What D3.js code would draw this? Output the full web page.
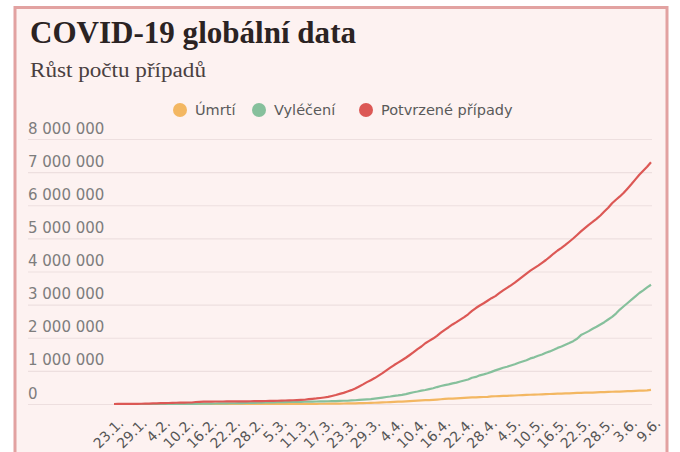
<!DOCTYPE html>
<html>
<head>
<meta charset="utf-8">
<script src="https://cdn.jsdelivr.net/npm/d3@7"></script>
<style>
  html, body { margin: 0; padding: 0; background: #fff; }
  svg { display: block; }
</style>
</head>
<body>
<svg id="chart" width="680" height="452"></svg>
<script>
// first day of the series, one value per day after it
var startDate = new Date(2020, 0, 23);

var tickLabels = ['23.1.', '29.1.', '4.2.', '10.2.', '16.2.', '22.2.', '28.2.', '5.3.',
  '11.3.', '17.3.', '23.3.', '29.3.', '4.4.', '10.4.', '16.4.', '22.4.', '28.4.',
  '4.5.', '10.5.', '16.5.', '22.5.', '28.5.', '3.6.', '9.6.'];

var yTicks = [0, 1000000, 2000000, 3000000, 4000000, 5000000, 6000000, 7000000, 8000000];

var seriesNames = ['Úmrtí', 'Vyléčení', 'Potvrzené případy'];
var seriesColors = ['#f3b762', '#86c09c', '#dc5855'];

var confirmed = [
  654, 941, 1434, 2118, 2927, 5578, 6166, 8234, 9927,
  12038, 16787, 19887, 23898, 27643, 30802, 34395, 37129, 40160, 42769, 44811, 45229, 60381,
  66909, 69052, 71235, 73270, 75152, 75653, 76212, 76841, 78602, 78982, 79546, 80399, 81376,
  82736, 84122, 86013,
  88371, 90309, 92844, 95124, 97886, 101800, 105836, 109835, 113582, 118582, 125865, 128343,
  145193, 156097, 167449, 181531, 197146, 214910, 242708, 272166, 304524, 336953, 378231,
  418041, 467653, 529591, 593291, 660693, 720140, 782389, 857487,
  932605, 1013466, 1095917, 1176060, 1249754, 1321481, 1396476, 1479804, 1565278, 1657526,
  1735650, 1834721, 1904838, 1976191, 2056054, 2152437, 2240190, 2317758, 2401378, 2472259,
  2549123, 2624068, 2708885, 2811193, 2897645, 2972363, 3041764, 3116398, 3193886, 3256846,
  3343777, 3427584, 3506729, 3583055, 3662691, 3755341, 3845718, 3938064, 4024009, 4101699,
  4177502, 4261747, 4347018, 4442163, 4542347, 4634068, 4713620, 4801943, 4897492, 4996472,
  5102424, 5210817, 5310362, 5407613, 5495061, 5589626, 5691790, 5808946, 5924275, 6059017,
  6166946,
  6265852, 6378237, 6508635, 6640000, 6780000, 6920000, 7040000, 7160000, 7300000
];

var recovered = [
  30, 36, 39, 52, 61, 107, 126, 143, 222,
  284, 472, 623, 852, 1124, 1487, 2011, 2616, 3244, 3946, 4683, 5150, 6295, 8058, 9395,
  10865, 12583, 14352, 16121, 18177, 18890, 22886, 23394, 25227, 27905, 30384, 33277, 36711,
  39782,
  42716, 45602, 48228, 51170, 53796, 55865, 58358, 60694, 62494, 64404, 67003, 68324, 70251,
  72624, 76034, 78088, 80840, 83207, 84854, 87256, 91499, 97704, 98327, 108000, 113787,
  122150, 130915, 139415, 149082, 164566, 178034,
  193177, 210263, 225796, 246152, 260012, 276515, 300054, 328661, 353975, 376096, 402110,
  421722, 448655, 474261, 511019, 542107, 568343, 591638, 623903, 645738, 680400, 710298,
  739273, 792622, 816673, 865733, 893967, 928658, 969220, 1014753,
  1053327, 1093112, 1125236, 1162724, 1198832, 1245413, 1284741, 1322050, 1375624, 1408980,
  1456209, 1493414, 1548547, 1587893, 1637067, 1693197, 1733963, 1786875, 1838995, 1897466,
  1970000, 2080000, 2140000, 2200000, 2270000, 2330000, 2400000, 2470000, 2550000, 2630000,
  2730000,
  2850000, 2950000, 3050000, 3150000, 3250000, 3350000, 3430000, 3520000, 3600000
];

var deaths = [
  18, 26, 42, 56, 82, 131, 133, 171, 213,
  259, 362, 426, 492, 564, 634, 719, 806, 906, 1013, 1113, 1118, 1371, 1523, 1666, 1770,
  1868, 2007, 2122, 2247, 2251, 2458, 2469, 2629, 2708, 2770, 2814, 2872, 2941,
  2996, 3085, 3160, 3254, 3348, 3460, 3558, 3803, 3996, 4262, 4615, 4720, 5404, 5819, 6440,
  7126, 7905, 8733, 9867, 11299, 12973, 14623, 16497, 18615, 21181, 23970, 27198, 30652,
  33925, 37582, 42107,
  46809, 52983, 58787, 64606, 69374, 74565, 81865, 88338, 95455, 102525, 108503, 114091,
  119482, 125984, 134176, 143800, 153821, 159509, 165043, 169986, 176583, 183066, 190858,
  197159, 202846, 206544, 211167, 217153, 227638, 233388,
  238650, 243808, 247470, 251537, 257239, 263831, 269567, 274898, 279311, 282709, 286330,
  291942, 297197, 302418, 307666, 311781, 315185, 318481, 323286, 328115, 332924, 338160,
  342214, 345059, 346232, 350453, 356093, 360438, 365143, 369126, 372035,
  375555, 380249, 385947, 391136, 396779, 401724, 405699, 411193, 425000
];

var allSeries = [deaths, recovered, confirmed];

var svg = d3.select('#chart');

// card
svg.append('rect')
  .attr('x', 15).attr('y', 7.5)
  .attr('width', 652).attr('height', 470)
  .attr('fill', '#fdf2f1')
  .attr('stroke', '#e2a2a1')
  .attr('stroke-width', 3);

svg.append('text')
  .attr('x', 30).attr('y', 43)
  .attr('font-family', '"Liberation Serif", serif')
  .attr('font-weight', 'bold')
  .attr('font-size', 31)
  .attr('fill', '#2b2323')
  .attr('textLength', 326)
  .attr('lengthAdjust', 'spacingAndGlyphs')
  .text('COVID‑19 globální data');

svg.append('text')
  .attr('x', 30).attr('y', 77)
  .attr('font-family', '"Liberation Serif", serif')
  .attr('font-size', 20)
  .attr('fill', '#4a4040')
  .attr('textLength', 176)
  .attr('lengthAdjust', 'spacingAndGlyphs')
  .text('Růst počtu případů');

// legend
var legendX = [180, 259, 366];
var legend = svg.append('g');
seriesNames.forEach(function (name, i) {
  legend.append('circle')
    .attr('cx', legendX[i]).attr('cy', 110).attr('r', 7)
    .attr('fill', seriesColors[i]);
  legend.append('text')
    .attr('x', legendX[i] + 15).attr('y', 115)
    .attr('font-family', '"DejaVu Sans", sans-serif')
    .attr('font-size', 14.5)
    .attr('fill', '#5a5a5a')
    .text(name);
});

var parseLabel = function (s) {
  var p = s.split('.');
  return new Date(2020, +p[1] - 1, +p[0]);
};
var endDate = parseLabel(tickLabels[tickLabels.length - 1]);

var x = d3.scaleTime().domain([startDate, endDate]).range([114, 651]);
var y = d3.scaleLinear().domain([0, 8000000]).range([404, 139]);

var czFormat = d3.formatLocale({ decimal: ',', thousands: ' ', grouping: [3], currency: ['', ''] }).format(',d');

// y grid + labels
var yAxis = d3.axisLeft(y).tickValues(yTicks).tickSize(-(652 - 28)).tickFormat(czFormat);
var gy = svg.append('g').attr('transform', 'translate(28,0)').call(yAxis);
gy.select('.domain').remove();
gy.selectAll('.tick line').attr('stroke', '#eddfdf').attr('stroke-width', 1.2);
gy.selectAll('.tick text')
  .attr('x', 0).attr('dy', -6)
  .attr('text-anchor', 'start')
  .attr('font-family', '"DejaVu Sans", sans-serif')
  .attr('font-size', 15)
  .attr('fill', '#7d7d7d');

// x axis labels
var xAxis = d3.axisBottom(x)
  .tickValues(tickLabels.map(parseLabel))
  .tickSize(0)
  .tickFormat(function (d, i) { return tickLabels[i]; });
var gx = svg.append('g').attr('transform', 'translate(0,410)').call(xAxis);
gx.select('.domain').remove();
gx.selectAll('.tick text')
  .attr('font-family', '"DejaVu Sans", sans-serif')
  .attr('font-size', 14)
  .attr('fill', '#555')
  .attr('text-anchor', 'end')
  .attr('dy', 0)
  .attr('y', 0)
  .attr('transform', 'translate(10,14) rotate(-45)');

// lines
var line = d3.line()
  .x(function (d, i) { return x(d3.timeDay.offset(startDate, i)); })
  .y(function (d) { return y(d); });

allSeries.forEach(function (values, i) {
  svg.append('path')
    .datum(values)
    .attr('fill', 'none')
    .attr('stroke', seriesColors[i])
    .attr('stroke-width', 2.2)
    .attr('stroke-linejoin', 'round')
    .attr('d', line);
});
</script>
</body>
</html>
